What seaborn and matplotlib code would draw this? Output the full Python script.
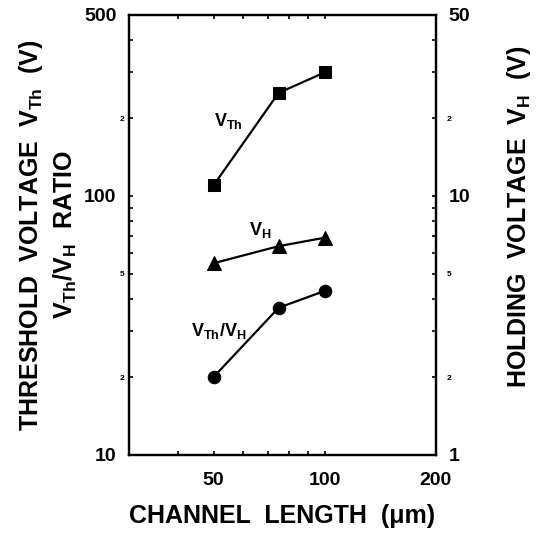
import numpy as np
import pandas as pd
import seaborn as sns
import matplotlib
matplotlib.use('Agg')
import matplotlib.pyplot as plt
from matplotlib.ticker import FixedLocator, FixedFormatter, NullFormatter

# values
length = [50, 75, 100]          # channel length (um)
v_th = [110, 250, 300]          # threshold voltage (V), left axis
ratio = [20, 37, 43]            # VTh/VH ratio, left axis
v_h = [5.5, 6.4, 6.9]           # holding voltage (V), right axis

x_major = [50, 100, 200]
x_minor = [40, 60, 70, 80, 90]
y_major_left = [10, 100, 500]
y_major_right = [1, 10, 50]

df = pd.DataFrame({'L': length, 'VTh': v_th, 'ratio': ratio, 'VH': v_h})

sns.set_style('white')
plt.rcParams['font.family'] = ['Liberation Sans', 'DejaVu Sans']
plt.rcParams['font.weight'] = 'bold'
plt.rcParams['mathtext.fontset'] = 'custom'
plt.rcParams['mathtext.rm'] = 'Liberation Sans:bold'
plt.rcParams['mathtext.default'] = 'rm'
for k in ('text.color', 'axes.labelcolor', 'xtick.color', 'ytick.color'):
    plt.rcParams[k] = 'black'

fig = plt.figure(figsize=(5.43, 5.34), dpi=100)
ax = fig.add_axes([0.2376, 0.148, 0.565, 0.824])
ax2 = ax.twinx()

sns.lineplot(data=df, x='L', y='VTh', marker='s', markersize=8, color='black',
             linewidth=1.6, markeredgecolor='black', ax=ax)
sns.lineplot(data=df, x='L', y='ratio', marker='o', markersize=9, color='black',
             linewidth=1.6, markeredgecolor='black', ax=ax)
sns.lineplot(data=df, x='L', y='VH', marker='^', markersize=10, color='black',
             linewidth=1.6, markeredgecolor='black', ax=ax2)

for a in (ax, ax2):
    a.set_xscale('log')
    a.set_yscale('log')
    for s in a.spines.values():
        s.set_linewidth(1.6)
        s.set_color('black')

ax.set_xlim(29.5, 200)
ax.set_ylim(10, 500)
ax2.set_ylim(1, 50)

# x axis ticks
ax.xaxis.set_major_locator(FixedLocator(x_major))
ax.xaxis.set_major_formatter(FixedFormatter([str(v) for v in x_major]))
ax.xaxis.set_minor_locator(FixedLocator(x_minor))
ax.xaxis.set_minor_formatter(NullFormatter())

# left y ticks
minor_left = [v * d for d in (10, 100) for v in range(2, 10) if v * d < 500]
ax.yaxis.set_major_locator(FixedLocator(y_major_left))
ax.yaxis.set_major_formatter(FixedFormatter([str(v) for v in y_major_left]))
ax.yaxis.set_minor_locator(FixedLocator(minor_left))
ax.yaxis.set_minor_formatter(FixedFormatter(
    ['2' if v in (20, 200) else ('5' if v == 50 else '') for v in minor_left]))

# right y ticks
minor_right = [v * d for d in (1, 10) for v in range(2, 10) if v * d < 50]
ax2.yaxis.set_major_locator(FixedLocator(y_major_right))
ax2.yaxis.set_major_formatter(FixedFormatter([str(v) for v in y_major_right]))
ax2.yaxis.set_minor_locator(FixedLocator(minor_right))
ax2.yaxis.set_minor_formatter(FixedFormatter(
    ['2' if v in (2, 20) else ('5' if v == 5 else '') for v in minor_right]))

ax.tick_params(axis='x', which='both', direction='in', top=True, bottom=True,
               length=3, width=1.2, labelsize=14, pad=12)
ax.tick_params(axis='y', which='both', direction='in', left=True, right=False,
               length=3, width=1.2)
ax.tick_params(axis='y', which='major', labelsize=14, pad=9)
ax.tick_params(axis='y', which='minor', labelsize=6, pad=3)
ax2.tick_params(axis='y', which='both', direction='in', right=True, left=False,
                length=3, width=1.2)
ax2.tick_params(axis='y', which='major', labelsize=14, pad=9)
ax2.tick_params(axis='y', which='minor', labelsize=6, pad=8)

ax.set_xlabel('CHANNEL  LENGTH  (\u03bcm)', fontsize=18, labelpad=11,
              fontweight='bold')
ax.set_ylabel('THRESHOLD  VOLTAGE  V$_{Th}$  (V)\nV$_{Th}$/V$_{H}$  RATIO',
              fontsize=18, labelpad=4, linespacing=1.3, fontweight='bold')
ax2.set_ylabel('HOLDING  VOLTAGE  V$_{H}$  (V)', fontsize=18,
               fontweight='bold')
ax2.yaxis.set_label_coords(1.225, 0.54)

# curve labels
ax.text(55, 195, 'V$_{Th}$', fontsize=13, ha='center', va='center')
ax.text(67, 74, 'V$_{H}$', fontsize=13, ha='center', va='center')
ax.text(51.5, 30, 'V$_{Th}$/V$_{H}$', fontsize=13, ha='center', va='center')

fig.savefig('out.png', dpi=100)
